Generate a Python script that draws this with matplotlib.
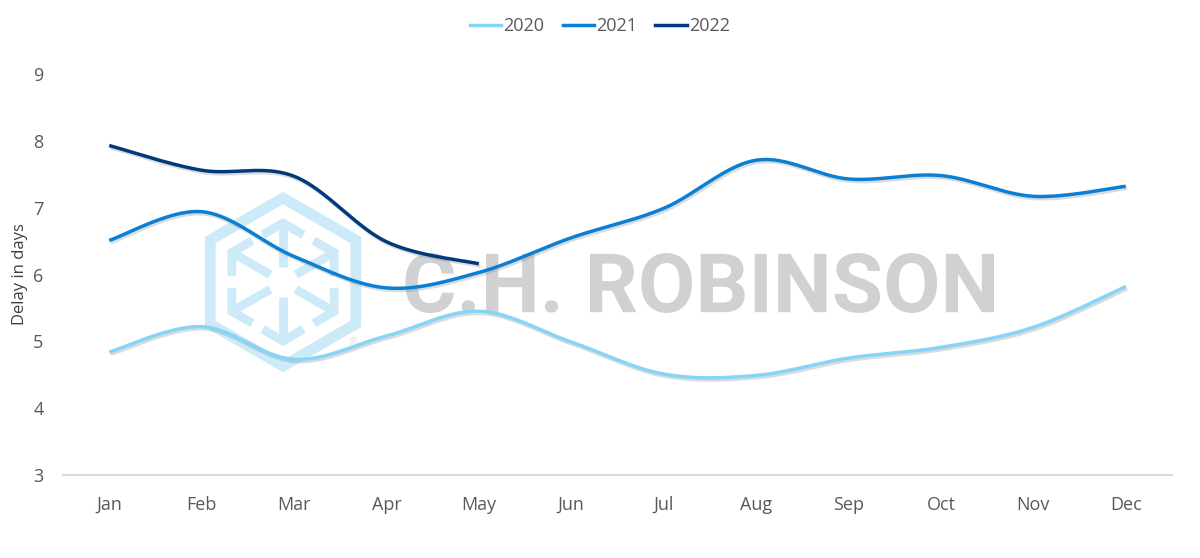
import numpy as np
import matplotlib
matplotlib.use("Agg")
import matplotlib.pyplot as plt
import matplotlib.patheffects as pe
from matplotlib.path import Path
from matplotlib.patches import PathPatch, Polygon
from matplotlib.textpath import TextPath
from matplotlib.font_manager import FontProperties
from matplotlib.lines import Line2D

months = ["Jan", "Feb", "Mar", "Apr", "May", "Jun", "Jul", "Aug", "Sep", "Oct", "Nov", "Dec"]
y2020 = [4.84, 5.22, 4.73, 5.08, 5.45, 4.99, 4.51, 4.49, 4.75, 4.91, 5.21, 5.82]
y2021 = [6.51, 6.94, 6.27, 5.80, 6.03, 6.55, 6.99, 7.71, 7.43, 7.48, 7.17, 7.32]
y2022 = [7.93, 7.56, 7.47, 6.49, 6.16]
series_names = ["2020", "2021", "2022"]
series_vals = [y2020, y2021, y2022]
colors = ["#85d5f7", "#0a7fd6", "#003a7d"]
yticks = [3, 4, 5, 6, 7, 8, 9]

plt.rcParams['font.family'] = ['Open Sans', 'DejaVu Sans']

W, H = 1200, 558
fig = plt.figure(figsize=(W / 100, H / 100), dpi=100)

# background watermark axes in pixel coords
bg = fig.add_axes([0, 0, 1, 1], zorder=0)
bg.set_xlim(0, W)
bg.set_ylim(H, 0)
bg.axis("off")

logo_col = "#cdeaf8"
cx, cy = 283, 282
def hexpts(cx, cy, r):
    pts = []
    for a in [90, 30, -30, -90, -150, 150]:
        t = np.radians(a)
        pts.append(np.array([cx + r * np.cos(t), cy - r * np.sin(t)]))
    return pts

outer = hexpts(cx, cy, 84)
bg.add_patch(Polygon(outer, closed=True, fill=False, edgecolor=logo_col, lw=7.8,
                     joinstyle="miter"))
inner = hexpts(cx, cy, 59)
centre = np.array([cx, cy])
lwi = 6.3
for i in range(6):
    v = inner[i]
    prev_v = inner[i - 1]
    next_v = inner[(i + 1) % 6]
    a = v + (prev_v - v) * 0.40
    b = v + (next_v - v) * 0.40
    bg.plot([a[0], v[0], b[0]], [a[1], v[1], b[1]], color=logo_col, lw=lwi,
            solid_joinstyle="miter", solid_capstyle="butt")
    s = centre + (v - centre) * 0.25
    bg.plot([s[0], v[0]], [s[1], v[1]], color=logo_col, lw=lwi, solid_capstyle="butt")
bg.text(352, 343, "®", color=logo_col, fontsize=9, ha="center", va="center",
        family=["DejaVu Sans"])

# brand text as scaled path
tp = TextPath((0, 0), "C.H. ROBINSON", size=100,
              prop=FontProperties(family="Roboto", weight="bold"))
v = tp.vertices.copy()
xmin, xmax = v[:, 0].min(), v[:, 0].max()
ymin, ymax = v[:, 1].min(), v[:, 1].max()
x0, x1, ytop, ybot = 402, 994, 253, 313
nv = np.empty_like(v)
nv[:, 0] = x0 + (v[:, 0] - xmin) / (xmax - xmin) * (x1 - x0)
nv[:, 1] = ybot - (v[:, 1] - ymin) / (ymax - ymin) * (ybot - ytop)
bg.add_patch(PathPatch(Path(nv, tp.codes), facecolor="#d0d1d3", edgecolor="none"))

# main axes
left, right = 63 / W, 1172 / W
bottom, top = (H - 475) / H, (H - 74) / H
ax = fig.add_axes([left, bottom, right - left, top - bottom], zorder=1)
ax.patch.set_alpha(0)

def smooth(xs, ys, n=40):
    xs = np.asarray(xs, float); ys = np.asarray(ys, float)
    P = np.column_stack([xs, ys])
    out = []
    m = len(P)
    for i in range(m - 1):
        p0 = P[i - 1] if i > 0 else P[i]
        p1 = P[i]; p2 = P[i + 1]
        p3 = P[i + 2] if i + 2 < m else P[i + 1]
        c1 = p1 + (p2 - p0) / 6.0
        c2 = p2 - (p3 - p1) / 6.0
        t = np.linspace(0, 1, n, endpoint=(i == m - 2))[:, None]
        seg = (1 - t) ** 3 * p1 + 3 * (1 - t) ** 2 * t * c1 + 3 * (1 - t) * t ** 2 * c2 + t ** 3 * p2
        out.append(seg)
    out = np.vstack(out)
    return out[:, 0], out[:, 1]

shadow = [pe.SimpleLineShadow(offset=(1.0, -1.6), shadow_color="#8a8a8a", alpha=0.3),
          pe.Normal()]
handles = []
for name, vals, col in zip(series_names, series_vals, colors):
    xs = np.arange(len(vals))
    sx, sy = smooth(xs, vals)
    ax.plot(sx, sy, color=col, lw=2.5, path_effects=shadow, solid_capstyle="butt")
    handles.append(Line2D([], [], color=col, lw=2.5, label=name))

ax.set_xlim(-0.5, len(months) - 0.5)
ax.set_ylim(3, 9)
ax.set_xticks(range(len(months)))
ax.set_xticklabels(months)
ax.set_yticks(yticks)
ax.tick_params(axis="both", length=0, labelsize=13, colors="#595959")
ax.tick_params(axis="x", pad=15)
ax.tick_params(axis="y", pad=14)
for s in ["top", "right", "left"]:
    ax.spines[s].set_visible(False)
ax.spines["bottom"].set_color("#d9d9d9")
ax.spines["bottom"].set_linewidth(1.5)
ax.set_ylabel("Delay in days", fontsize=12, color="#404040")
ax.yaxis.set_label_coords(-0.032, 0.5)

leg = fig.legend(handles=handles, loc="center", bbox_to_anchor=(0.5, 1 - 26 / H), ncol=3,
                 frameon=False, fontsize=13, handlelength=1.75, handletextpad=0.12,
                 columnspacing=1.0)
for t in leg.get_texts():
    t.set_color("#595959")

fig.savefig("out.png", dpi=100)
